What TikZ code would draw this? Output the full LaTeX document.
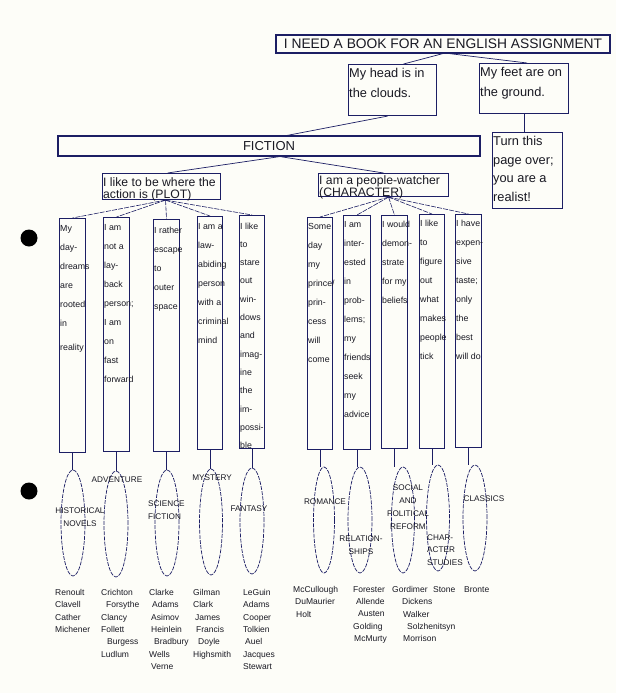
\documentclass[tikz,border=0pt]{standalone}
\usepackage{fontspec}
\setmainfont{Liberation Sans}
\usepackage{tikz}
\usetikzlibrary{shapes.geometric, calc}

\definecolor{ink}{RGB}{28,30,100}
\definecolor{paper}{RGB}{253,253,248}
\definecolor{print}{RGB}{25,25,35}

\begin{document}
\begin{tikzpicture}[x=1pt, y=-1pt,
  box/.style={draw=ink, line width=1.1pt, rectangle, inner sep=0pt, text=print},
  boxtext/.style={anchor=north west, inner sep=0pt, align=left, text=print, font=\fontsize{12.8}{20}\selectfont},
  colbox/.style={draw=ink, line width=1pt, rectangle, anchor=north west, inner sep=0pt},
  coltext/.style={anchor=north west, inner sep=0pt, align=left, text=print, font=\fontsize{8.8}{19}\selectfont},
  genre/.style={ellipse, draw=ink, line width=0.7pt, dash pattern=on 4pt off 1.2pt, minimum width=24pt, minimum height=106pt, inner sep=0pt},
  genretext/.style={inner sep=0pt, align=center, text=print, font=\fontsize{8.2}{12.8}\selectfont},
  authors/.style={anchor=north west, inner sep=0pt, align=left, text=print, font=\fontsize{8.5}{12.4}\selectfont},
  link/.style={draw=ink, line width=0.7pt},
  fan/.style={draw=ink, line width=0.6pt, dash pattern=on 5pt off 1.2pt},
  hole/.style={circle, fill=black, minimum size=17pt, inner sep=0pt}
]
\fill[paper] (0,0) rectangle (616,693);
\useasboundingbox (0,0) rectangle (616,693);

% Binder holes
\node[hole] (hole1) at (29,238) {};
\node[hole] (hole2) at (29,491) {};

% Top of the chart
\node[box, minimum width=334pt, minimum height=18pt, font=\fontsize{13.8}{16}\selectfont] (title) at (443,44) {I NEED A BOOK FOR AN ENGLISH ASSIGNMENT};
\node[box, anchor=north west, minimum width=88pt, minimum height=51pt] (head) at (348,64) {};
\node[boxtext, yshift=-4pt, xshift=1pt] (headtext) at (head.north west) {My head is in\\the clouds.};
\node[box, anchor=north west, minimum width=89pt, minimum height=50pt] (feet) at (479,63) {};
\node[boxtext, yshift=-4pt, xshift=1pt] (feettext) at (feet.north west) {My feet are on\\the ground.};
\node[box, anchor=north west, minimum width=70pt, minimum height=76pt] (turn) at (492,132) {};
\node[boxtext, yshift=-4pt, xshift=1pt, font=\fontsize{12.8}{18.7}\selectfont] (turntext) at (turn.north west) {Turn this\\page over;\\you are a\\realist!};
\node[box, minimum width=422pt, minimum height=20pt, font=\fontsize{13}{16}\selectfont] (fiction) at (269,146) {FICTION};
\node[box, anchor=north west, minimum width=118pt, minimum height=26pt] (plot) at (102,173) {};
\node[boxtext, yshift=-4.5pt, xshift=1pt, font=\fontsize{12.2}{12.3}\selectfont] (plottext) at (plot.north west) {I like to be where the\\action is  (PLOT)};
\node[box, anchor=north west, minimum width=130pt, minimum height=23pt] (character) at (318,173) {};
\node[boxtext, yshift=-2.5pt, xshift=1pt, font=\fontsize{12.2}{11}\selectfont] (charactertext) at (character.north west) {I am a people-watcher\\(CHARACTER)};

% Plot columns
\node[colbox, minimum width=26pt, minimum height=234pt] (p1) at (59,218) {};
\node[colbox, minimum width=26pt, minimum height=234pt] (p2) at (103,217) {};
\node[colbox, minimum width=26pt, minimum height=232pt] (p3) at (153,219) {};
\node[colbox, minimum width=25pt, minimum height=233pt] (p4) at (197,216) {};
\node[colbox, minimum width=25pt, minimum height=233pt] (p5) at (239,215) {};
\node[coltext, yshift=-7.5pt, xshift=1pt] (p1text) at (p1.north west) {My\\day-\\dreams\\are\\rooted\\in\\[5pt]reality};
\node[coltext, yshift=-7.5pt, xshift=1pt] (p2text) at (p2.north west) {I am\\not a\\lay-\\back\\person;\\I am\\on\\fast\\forward};
\node[coltext, yshift=-7.5pt, xshift=1pt] (p3text) at (p3.north west) {I rather\\escape\\to\\outer\\space};
\node[coltext, yshift=-7.5pt, xshift=1pt] (p4text) at (p4.north west) {I am a\\law-\\abiding\\person\\with a\\criminal\\mind};
\node[coltext, yshift=-7.5pt, xshift=1pt, font=\fontsize{8.8}{18.3}\selectfont] (p5text) at (p5.north west) {I like\\to\\stare\\out\\win-\\dows\\and\\imag-\\ine\\the\\im-\\possi-\\ble};

% Character columns
\node[colbox, minimum width=25pt, minimum height=232pt] (c1) at (307,217) {};
\node[colbox, minimum width=27pt, minimum height=234pt] (c2) at (343,215) {};
\node[colbox, minimum width=26pt, minimum height=233pt] (c3) at (381,215) {};
\node[colbox, minimum width=25pt, minimum height=234pt] (c4) at (419,214) {};
\node[colbox, minimum width=26pt, minimum height=233pt] (c5) at (455,214) {};
\node[coltext, yshift=-6pt, xshift=1pt] (c1text) at (c1.north west) {Some\\day\\my\\prince/\\prin-\\cess\\will\\come};
\node[coltext, yshift=-6pt, xshift=1pt] (c2text) at (c2.north west) {I am\\inter-\\ested\\in\\prob-\\lems;\\my\\friends\\seek\\my\\advice};
\node[coltext, yshift=-6pt, xshift=1pt] (c3text) at (c3.north west) {I would\\demon-\\strate\\for my\\beliefs};
\node[coltext, yshift=-6pt, xshift=1pt] (c4text) at (c4.north west) {I like\\to\\figure\\out\\what\\makes\\people\\tick};
\node[coltext, yshift=-6pt, xshift=1pt] (c5text) at (c5.north west) {I have\\expen-\\sive\\taste;\\only\\the\\best\\will do};

% Genres
\node[genre] (e1) at (73,523) {};
\node[genre] (e2) at (116,524) {};
\node[genre] (e3) at (167,523) {};
\node[genre, minimum width=23pt] (e4) at (211,522) {};
\node[genre] (e5) at (252,521) {};
\node[genre, minimum width=21pt] (e6) at (324,520) {};
\node[genre] (e7) at (360,520) {};
\node[genre, minimum width=23pt] (e8) at (403,520) {};
\node[genre, minimum width=23pt] (e9) at (438,518) {};
\node[genre] (e10) at (475,518) {};

\node[genretext] (g1) at (80,517) {HISTORICAL\\NOVELS};
\node[genretext] (g2) at (117,480) {ADVENTURE};
\node[genretext, anchor=west, align=left] (g3) at (148,510) {SCIENCE\\FICTION};
\node[genretext] (g4) at (212,478) {MYSTERY};
\node[genretext] (g5) at (249,509) {FANTASY};
\node[genretext] (g6) at (325,502) {ROMANCE};
\node[genretext] (g7) at (361,545) {RELATION-\\SHIPS};
\node[genretext] (g8) at (408,507) {SOCIAL\\AND\\POLITICAL\\REFORM};
\node[genretext, anchor=west, align=left] (g9) at (427,550) {CHAR-\\ACTER\\STUDIES};
\node[genretext] (g10) at (484,499) {CLASSICS};

% Authors
\node[authors] (a1) at (55,589) {Renoult\\Clavell\\Cather\\Michener};
\node[authors] (a2) at (101,589) {Crichton\\\hspace*{5pt}Forsythe\\Clancy\\Follett\\\hspace*{6pt}Burgess\\Ludlum};
\node[authors] (a3) at (149,589) {Clarke\\\hspace*{3pt}Adams\\\hspace*{2pt}Asimov\\\hspace*{2pt}Heinlein\\\hspace*{5pt}Bradbury\\Wells\\\hspace*{2pt}Verne};
\node[authors] (a4) at (193,589) {Gilman\\Clark\\\hspace*{2pt}James\\\hspace*{3pt}Francis\\\hspace*{5pt}Doyle\\Highsmith};
\node[authors] (a5) at (243,589) {LeGuin\\Adams\\Cooper\\Tolkien\\\hspace*{2pt}Auel\\Jacques\\Stewart};
\node[authors] (a6) at (293,586) {McCullough\\\hspace*{2pt}DuMaurier\\\hspace*{3pt}Holt};
\node[authors] (a7) at (353,586) {Forester\\\hspace*{3pt}Allende\\\hspace*{5pt}Austen\\Golding\\\hspace*{1pt}McMurty};
\node[authors] (a8) at (392,586) {Gordimer\\\hspace*{10pt}Dickens\\\hspace*{11pt}Walker\\\hspace*{15pt}Solzhenitsyn\\\hspace*{11pt}Morrison};
\node[authors] (a9) at (433,586) {Stone};
\node[authors] (a10) at (464,586) {Bronte};

% Links
\draw[link] (title.south) -- ([xshift=11pt]head.north);
\draw[link] ([xshift=6pt]title.south) -- ([xshift=3pt]feet.north);
\draw[link] (feet.south) -- (feet.south |- turn.north);
\draw[link] ([xshift=-5pt]head.south) -- ([xshift=18pt]fiction.north);
\draw[link] ([xshift=11pt]fiction.south) -- ([xshift=6pt]plot.north);
\draw[link] ([xshift=11pt]fiction.south) -- (character.north);

\draw[fan] ([xshift=4pt]plot.south) -- (p1.north);
\draw[fan] ([xshift=4pt]plot.south) -- (p2.north);
\draw[fan] ([xshift=4pt]plot.south) -- (p3.north);
\draw[fan] ([xshift=4pt]plot.south) -- (p4.north);
\draw[fan] ([xshift=4pt]plot.south) -- (p5.north);
\draw[fan] ([xshift=5pt]character.south) -- (c1.north);
\draw[fan] ([xshift=5pt]character.south) -- (c2.north);
\draw[fan] ([xshift=5pt]character.south) -- (c3.north);
\draw[fan] ([xshift=5pt]character.south) -- (c4.north);
\draw[fan] ([xshift=5pt]character.south) -- (c5.north);

\draw[link] (p1.south) -- (p1.south |- e1.north);
\draw[link] (p2.south) -- (p2.south |- e2.north);
\draw[link] (p3.south) -- (p3.south |- e3.north);
\draw[link] (p4.south) -- (p4.south |- e4.north);
\draw[link] (p5.south) -- (p5.south |- e5.north);
\draw[link] (c1.south) -- (c1.south |- e6.north);
\draw[link] (c2.south) -- (c2.south |- e7.north);
\draw[link] (c3.south) -- (c3.south |- e8.north);
\draw[link] (c4.south) -- (c4.south |- e9.north);
\draw[link] (c5.south) -- (c5.south |- e10.north);

\end{tikzpicture}
\end{document}
